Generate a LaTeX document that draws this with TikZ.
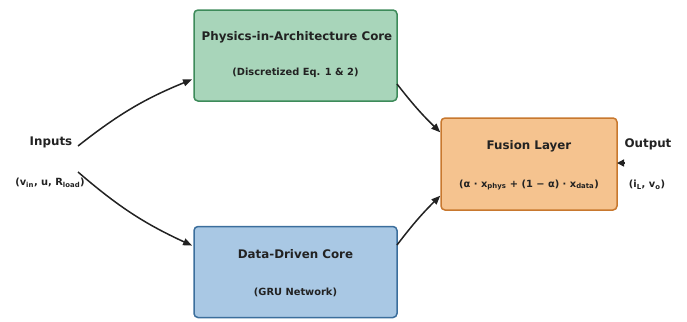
\documentclass[tikz,border=0pt]{standalone}
\usepackage{fontspec}
\setmainfont{DejaVu Sans}
\usetikzlibrary{arrows.meta}
\definecolor{txt}{HTML}{222222}
\definecolor{gfill}{HTML}{A8D5BA}
\definecolor{gline}{HTML}{3D8B5A}
\definecolor{bfill}{HTML}{A9C8E4}
\definecolor{bline}{HTML}{3B6E9C}
\definecolor{ofill}{HTML}{F5C38F}
\definecolor{oline}{HTML}{C8782E}
\tikzset{
  corebox/.style={rounded corners=4bp, line width=1.5bp, minimum width=203bp, minimum height=91bp, inner sep=0pt},
  title/.style={font=\fontsize{11.9}{13}\selectfont\bfseries, text=txt, inner sep=0pt},
  sub/.style={font=\fontsize{9.9}{11}\selectfont\bfseries, text=txt, inner sep=0pt},
  conn/.style={line width=1.5bp, draw=txt, -{Triangle[length=9bp,width=7bp]}, shorten >=1bp},
}
\begin{document}
\begin{tikzpicture}[x=1bp,y=-1bp]
\useasboundingbox (0,0) rectangle (687,321);
% boxes
\node[corebox, draw=gline, fill=gfill] (phys) at (295.5,55.5) {};
\node[corebox, draw=bline, fill=bfill] (data) at (295.5,272) {};
\node[corebox, draw=oline, fill=ofill, minimum width=176bp, minimum height=92bp] (fus) at (529,164) {};
% texts
\node[title] (physT) at (297,37) {Physics-in-Architecture Core};
\node[sub] (physS) at (295.5,73) {(Discretized Eq. 1 \& 2)};
\node[title] (dataT) at (295.5,254) {Data-Driven Core};
\node[sub] (dataS) at (295.5,292) {(GRU Network)};
\node[title] (fusT) at (529,146) {Fusion Layer};
\node[sub] (fusS) at (529,185) {(α · x\textsubscript{phys} + (1 − α) · x\textsubscript{data})};
\node[title] (inT) at (51,142) {Inputs};
\node[sub] (inS) at (50,183) {(v\textsubscript{in}, u, R\textsubscript{load})};
\node[title] (outT) at (648,144) {Output};
\node[sub] (outS) at (647,185) {(i\textsubscript{L}, v\textsubscript{o})};
% connector anchors
\coordinate (a1) at (78,146);
\coordinate (a2) at (78,172);
\coordinate (p1) at (193,79);
\coordinate (d1) at (193,246);
\coordinate (pout) at (397,84);
\coordinate (dout) at (397,245);
\coordinate (f1) at (441,133);
\coordinate (f2) at (441,195);
\coordinate (o1) at (625,163);
\coordinate (oe) at (617,163);
% connectors
\draw[conn] (a1) to[bend left=8] (p1);
\draw[conn] (a2) to[bend right=8] (d1);
\draw[conn] (pout) to[bend right=4] (f1);
\draw[conn] (dout) to[bend left=4] (f2);
\draw[line width=1.5bp, draw=txt, -{Triangle[length=7bp,width=7bp]}] (o1) -- (oe);
\end{tikzpicture}
\end{document}
